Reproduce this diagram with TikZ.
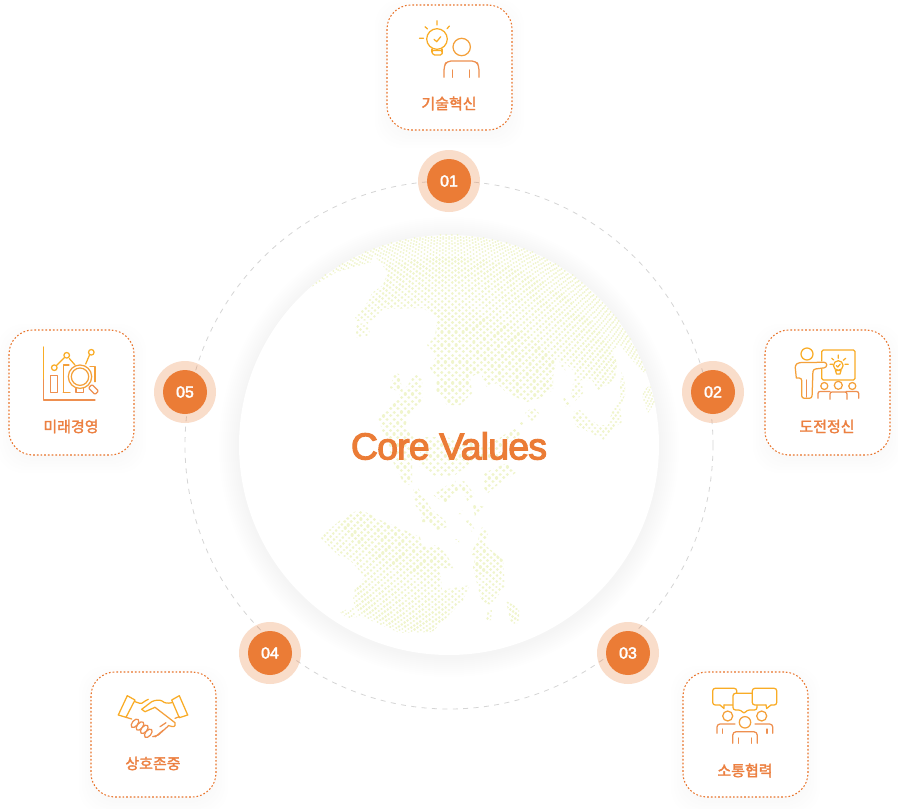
\documentclass[tikz,border=0pt]{standalone}
\usepackage{fontspec}
\setmainfont{Liberation Sans}
\newfontfamily\kofont{Noto Sans CJK KR}[FakeBold=2]
\newfontfamily\titlefont{Liberation Sans}[FakeBold=3,LetterSpace=-2.2]
\newfontfamily\numfont{Liberation Sans}[FakeBold=2.5]
\definecolor{orangeM}{HTML}{EB7C36}
\definecolor{borderC}{HTML}{E9742B}
\definecolor{labelC}{HTML}{EC8041}
\definecolor{ringC}{HTML}{D5D5D5}
\definecolor{dotC}{HTML}{F0F5CC}
\definecolor{iconA}{HTML}{F9AC25}
\definecolor{iconM}{HTML}{F4A03A}
\definecolor{iconB}{HTML}{EE8F4F}
\newdimen\da \newdimen\db \newdimen\dt \newdimen\dtt \newdimen\dttt
\newdimen\ds \newdimen\dc \newdimen\dxx \newdimen\dyy
\makeatletter\def\nn#1{\strip@pt#1}\makeatother
\tikzset{
 card/.style={draw=borderC,fill=white,line width=1.05pt,dash pattern=on 1.7pt off 2pt,rounded corners=24pt,minimum size=125pt,inner sep=0pt},
 halo/.style={circle,fill=orangeM,fill opacity=0.26,minimum size=62pt,inner sep=0pt},
 badge/.style={circle,fill=orangeM,text=white,minimum size=44pt,inner sep=0pt,font=\numfont\fontsize{16}{17}\selectfont},
 lab/.style={text=labelC,inner sep=0pt,font=\kofont\fontsize{15}{16}\selectfont},
 ic/.style={line width=1.25pt,line cap=round,line join=round},
 icA/.style={ic,draw=iconA},
 icM/.style={ic,draw=iconM},
 icB/.style={ic,draw=iconB},
 ringline/.style={circle,draw=ringC,line width=0.8pt,dash pattern=on 5pt off 5.4pt,minimum size=528pt,inner sep=0pt},
}
\begin{document}
\begin{tikzpicture}[x=1pt,y=-1pt]
\useasboundingbox (0,0) rectangle (898,809);
\fill[white] (0,0) rectangle (898,809);
% ring
\node[ringline] (ring) at (449,445) {};
% globe shadow
\foreach \r in {212,214,...,230}{\fill[black,opacity=0.004] (449,447) circle (\r pt);}
\node[circle,fill=white,minimum size=420pt,inner sep=0pt] (globe) at (449,445) {};
% dotted map
\begin{scope}
\clip
 (285,290) -- (310,288) -- (323,280) -- (337,272) -- (372,262) -- (373,254) -- (388,272) -- (383,285) -- (372,293) -- (368,302) -- (355,317) -- (357,321) -- (372,320) -- (383,309) -- (423,308) -- (437,318) -- (435,337) -- (427,345) -- (437,355) -- (430,368) -- (437,377) -- (436,390) -- (447,405) -- (460,405) -- (472,393) -- (470,377) -- (482,372) -- (482,380) -- (487,387) -- (497,383) -- (507,393) -- (527,402) -- (540,398) -- (553,390) -- (553,377) -- (557,355) -- (562,368) -- (566,375) -- (564,362) -- (575,372) -- (573,382) -- (582,380) -- (592,380) -- (598,390) -- (615,380) -- (617,363) -- (612,350) -- (620,345) -- (632,360) -- (643,372) -- (670,372) -- (670,200) -- (285,200) -- cycle
 (395,373) -- (399,374) -- (403,392) -- (416,373) -- (422,380) -- (422,400) -- (408,415) -- (405,428) -- (420,445) -- (412,455) -- (412,485) -- (404,484) -- (393,462) -- (388,445) -- (382,430) -- (378,417) -- (392,405) -- (398,400) -- (400,392) -- (390,388) -- (393,378) -- cycle
 (355,325) -- (368,322) -- (370,335) -- (357,338) -- cycle
 (573,384) -- (582,382) -- (583,393) -- (575,401) -- (571,396) -- cycle
 (563,398) -- (567,398) -- (570,406) -- (566,407) -- cycle
 (573,412) -- (580,410) -- (588,418) -- (598,425) -- (608,425) -- (612,412) -- (620,398) -- (620,387) -- (622,370) -- (625,385) -- (625,395) -- (620,407) -- (622,422) -- (613,428) -- (603,440) -- (592,433) -- (577,427) -- (573,420) -- cycle
 (642,392) -- (650,385) -- (655,402) -- (648,413) -- (643,400) -- cycle
 (423,437) -- (445,437) -- (480,445) -- (497,440) -- (515,427) -- (522,433) -- (505,445) -- (495,460) -- (475,460) -- (455,475) -- (437,477) -- (418,465) -- cycle
 (484,488) -- (484,473) -- (507,463) -- (517,472) -- (500,483) -- (488,493) -- cycle
 (525,413) -- (533,407) -- (539,413) -- (532,421) -- cycle
 (520,421) -- (524,421) -- (524,425) -- (520,425) -- cycle
 (433,495) -- (455,480) -- (458,490) -- (445,503) -- cycle
 (458,483) -- (464,481) -- (475,495) -- (468,502) -- cycle
 (413,490) -- (418,488) -- (432,510) -- (445,520) -- (447,527) -- (437,530) -- (425,517) -- (415,505) -- cycle
 (421,517) -- (432,517) -- (432,522) -- (421,522) -- cycle
 (458,510) -- (462,510) -- (462,514) -- (458,514) -- cycle
 (473,505) -- (487,507) -- (475,517) -- cycle
 (466,521) -- (469,520) -- (475,530) -- (472,532) -- cycle
 (470,555) -- (478,540) -- (482,527) -- (488,533) -- (485,545) -- (503,560) -- (505,587) -- (490,605) -- (481,600) -- (473,567) -- (476,555) -- cycle
 (455,539) -- (459,539) -- (459,543) -- (455,543) -- cycle
 (488,610) -- (492,610) -- (491,620) -- (486,620) -- cycle
 (506,601) -- (519,608) -- (519,623) -- (511,624) -- cycle
 (320,537) -- (343,518) -- (360,509) -- (380,520) -- (397,527) -- (420,537) -- (422,547) -- (438,545) -- (448,557) -- (453,568) -- (440,568) -- (442,590) -- (470,585) -- (463,600) -- (447,617) -- (432,632) -- (400,633) -- (358,615) -- (353,600) -- (355,588) -- (365,577) -- (350,560) -- (338,555) -- cycle
 (340,612) -- (353,607) -- (357,617) -- (347,618) -- cycle;
\pgfsetstrokecolor{dotC}
\pgfsetroundcap
\foreach \lw/\lo/\hi in {2.0pt/-1pt/0.55pt,2.7pt/0.55pt/0.8pt,3.2pt/0.8pt/2pt}{
\pgfsetlinewidth{\lw}
\foreach \i in {-74,...,74}{
 \foreach \j in {-37,...,37}{
  \da=\i\dimexpr 0.01642pt\relax
  \db=\numexpr 2*\j+\ifodd\numexpr\i\relax 1\else 0\fi\relax\dimexpr 0.01642pt\relax
  \dt=\dimexpr \nn\da\da+\nn\db\db\relax
  \ifdim\dt<1.44pt
   \dtt=\nn\dt\dt
   \dttt=\nn\dtt\dt
   \dc=\dimexpr 1pt-0.5\dt+0.041667\dtt-0.001389\dttt\relax
   \ifdim\dc<\lo\else\ifdim\dc<\hi
    \ds=\dimexpr 1pt-0.166667\dt+0.008333\dtt-0.000198\dttt\relax
    \dxx=\dimexpr 449pt+225.3\dimexpr\nn\ds\db\relax\relax
    \dyy=\dimexpr -445pt-225.3\dimexpr\nn\ds\da\relax\relax
    \ifdim\dxx>305pt
     \pgfpathmoveto{\pgfqpoint{\dxx}{\dyy}}
     \pgfpathlineto{\pgfqpoint{\dimexpr\dxx+0.02pt\relax}{\dyy}}
    \fi
   \fi\fi
  \fi
 }
 \pgfusepath{stroke}
}
}
\end{scope}
\node[text=orangeM,inner sep=0pt,font=\titlefont\fontsize{37.5}{40}\selectfont] (title) at (449,446) {Core Values};
% cards with shadows
\foreach \cx/\cy in {449.5/67.5,71.5/392.5,827.5/392.5,153.5/734.5,745.5/734.5}{
 \foreach \g in {0,3,...,12}{
  \fill[black,opacity=0.005,rounded corners=26pt] (\cx-62.5-\g,\cy-62.5-\g+6) rectangle (\cx+62.5+\g,\cy+62.5+\g+6);
 }
}
\node[card] (c1) at (449.5,67.5) {};
\node[card] (c2) at (827.5,392.5) {};
\node[card] (c3) at (745.5,734.5) {};
\node[card] (c4) at (153.5,734.5) {};
\node[card] (c5) at (71.5,392.5) {};
\node[lab] (l1) at (449,103.5) {기술혁신};
\node[lab] (l2) at (827,426.5) {도전정신};
\node[lab] (l3) at (745,770.5) {소통협력};
\node[lab] (l4) at (153,763.5) {상호존중};
\node[lab] (l5) at (71,426.5) {미래경영};
% badges
\node[halo] (h1) at (449,181) {};
\node[halo] (h2) at (713,392) {};
\node[halo] (h3) at (628,653) {};
\node[halo] (h4) at (270,653) {};
\node[halo] (h5) at (185,392) {};
\node[badge] (n1) at (449,181) {01};
\node[badge] (n2) at (713,392) {02};
\node[badge] (n3) at (628,653) {03};
\node[badge] (n4) at (270,653) {04};
\node[badge] (n5) at (185,392) {05};
% icon 1: idea person
\draw[icA] (437,39) circle (10.3pt);
\draw[icA] (432,49) -- (432,52) (442,49) -- (442,52);
\draw[icA,rounded corners=1.5pt] (431.5,50.5) -- (442.5,50.5) -- (442,55) -- (433,55) -- cycle;
\draw[icA] (419.5,38.3) -- (423.5,38.3) (425,26.7) -- (427.5,29) (437,20.7) -- (437,25) (449.5,26) -- (447,28.7);
\draw[icA] (434,39.3) -- (436.7,41.7) -- (440.7,36.7);
\draw[icM] (461.7,47) circle (8.7pt);
\draw[icB,rounded corners=4pt] (444,77.3) -- (444,66) -- (447,61) -- (476,61) -- (479,66) -- (479,77.3);
\draw[icB] (452.7,70) -- (452.7,77.3) (469.3,70) -- (469.3,77.3);
% icon 2: presenter
\draw[icA] (807,354) circle (6pt);
\draw[icA,rounded corners=1.5pt] (821.7,361) -- (821.7,350) -- (855,350) -- (855,380) -- (821.7,380) -- (821.7,369);
\draw[icM,rounded corners=2.5pt] (796.3,378) -- (795,365) -- (799,362.5) -- (826.7,362.3) -- (826.7,367.5) -- (813,369.3) -- (812,398.3) -- (801.7,398.3) -- (801.7,378) -- (796.3,378);
\draw[icB] (806.7,380) -- (806.7,397);
\draw[icA] (838.3,365.5) circle (4.8pt);
\draw[icA] (835.5,370.5) -- (841,370.5) -- (840,374) -- (836.5,374) -- cycle;
\draw[icA] (838.3,355) -- (838.3,358.3) (830,364.3) -- (832.7,364.3) (845,364.3) -- (848.3,364.3) (831.7,358.3) -- (833.7,360) (845.7,358.3) -- (843.3,360.3);
\draw[icA] (836.3,365.5) -- (837.8,367) -- (840.3,364);
\draw[icM] (824.3,386) circle (3.5pt) (838.3,385.3) circle (4pt) (852.3,386) circle (3.5pt);
\draw[icB,rounded corners=2pt] (818,398.3) -- (818,391.5) -- (830,391.5);
\draw[icB,rounded corners=2pt] (830,399.3) -- (830,392) -- (847,392) -- (847,399.3);
\draw[icB,rounded corners=2pt] (846,391.5) -- (858.7,391.5) -- (858.7,398.3);
% icon 3: talking people
\draw[icA,fill=white,rounded corners=2.5pt] (720,705) -- (712.7,705) -- (712.7,688.3) -- (736.7,688.3) -- (736.7,705) -- (724,705);
\draw[icA] (720,705) -- (724,708.5) -- (724,705);
\draw[icA,fill=white,rounded corners=2.5pt] (733,710) -- (733,693.3) -- (757,693.3) -- (757,710) -- (747,710) -- (744,714) -- (741,710) -- cycle;
\draw[icA,fill=white,rounded corners=2.5pt] (766,705) -- (752.3,705) -- (752.3,688.3) -- (776.7,688.3) -- (776.7,705) -- (771,705);
\draw[icA] (766,705) -- (766.7,708.5) -- (771,705);
\draw[icM] (727.7,716) circle (5pt) (761.7,716) circle (5pt) (745,722.3) circle (5.7pt);
\draw[icB,rounded corners=3pt] (717,733.3) -- (717,724) -- (735,724);
\draw[icB,rounded corners=3pt] (755,724) -- (772.7,724) -- (772.7,733.3);
\draw[icB,rounded corners=3.5pt] (732.7,743.3) -- (732.7,731.7) -- (757.3,731.7) -- (757.3,743.3);
\draw[icB] (722.5,729) -- (722.5,733.3) (767,729) -- (767,733.3) (738.7,738) -- (738.7,743.3) (751.3,738) -- (751.3,743.3);
% icon 4: handshake
\draw[icA] (118.3,715) -- (127.3,695.7) -- (135,700) -- (126,717.3) -- cycle;
\draw[icA] (171.7,700) -- (179.3,695.7) -- (187.7,715) -- (179.3,717.7) -- cycle;
\draw[icA] (135,701.7) .. controls (139,703) and (141,704) .. (141.7,703.3) .. controls (144,702) and (146,700) .. (148.3,699.3);
\draw[icA] (155,707.3) -- (145,711.7) -- (141.7,709.3) -- (151.7,701.7) .. controls (155,700) and (160,699.5) .. (162,701) .. controls (165,703.5) and (168,703.5) .. (171.7,702.7);
\draw[icM] (155,707.3) -- (175,722.7) .. controls (176,725) and (175,727) .. (172,726.5) -- (168.3,725.5);
\draw[icM] (175,718.3) -- (179.3,716.7) (126,717.3) -- (131.7,719);
\draw[icB] (160,726.7) -- (166,722.7) (168.3,726) -- (158.3,735) -- (152.7,736.7) (163.5,730) -- (155,737);
\foreach \ex/\ey in {135/723.3,140/726,144.3/729.3,148.3/733.3}{
 \draw[icB,fill=white,rotate around={50:(\ex,\ey)}] (\ex,\ey) ellipse (5pt and 2.8pt);
}
% icon 5: analytics
\draw[icA] (43.7,347) -- (43.7,380);
\draw[icB] (43.7,380) -- (43.7,400) -- (95,400);
\draw[icA] (54.3,367.7) circle (2.8pt) (66.7,355.3) circle (2.8pt) (91.3,352.3) circle (2.8pt);
\draw[icA] (56.5,365.5) -- (64.5,357.5) (69.3,358.5) -- (75,365) (89.5,355) -- (85.7,364);
\draw[icB] (50.7,392.3) -- (50.7,375.5) -- (57.3,375.5) -- (57.3,392.3) -- cycle;
\draw[icM] (63.3,392.3) -- (63.3,365) -- (69,365) (63.3,392.3) -- (70,392.3);
\draw[icB] (76,388.5) -- (76,392.3) -- (83.3,392.3) -- (83.3,388.5);
\draw[icM] (90,366.7) -- (95,366.7) -- (95,381.7);
\draw[icM] (80,376.7) circle (11.7pt);
\draw[icM] (80,376.7) circle (8.7pt);
\draw[icB,rounded corners=1pt] (88.5,388) -- (92,384.5) -- (98.5,391) -- (95,394.5) -- cycle;
\end{tikzpicture}
\end{document}
